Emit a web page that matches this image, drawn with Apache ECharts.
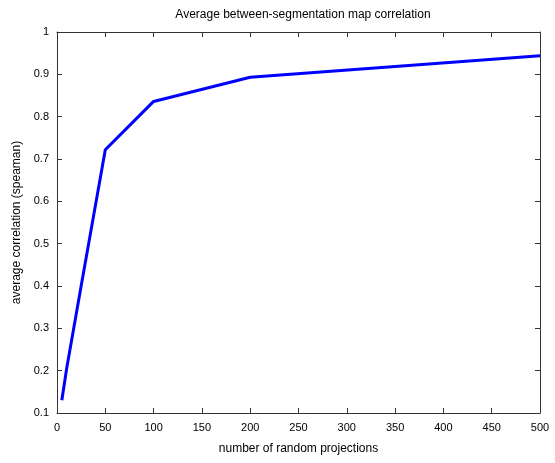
<!DOCTYPE html>
<html>
<head>
<meta charset="utf-8">
<script src="https://cdn.jsdelivr.net/npm/echarts@6/dist/echarts.min.js"></script>
<style>
html,body{margin:0;padding:0;background:#fff;}
#c{width:555px;height:463px;}
</style>
</head>
<body>
<div id="c"></div>
<script>
const projections = [5, 10, 25, 50, 100, 200, 500];
const correlation = [0.13, 0.205, 0.40, 0.722, 0.836, 0.893, 0.944];
const xTicks = [0, 50, 100, 150, 200, 250, 300, 350, 400, 450, 500];
const yTicks = [0.1, 0.2, 0.3, 0.4, 0.5, 0.6, 0.7, 0.8, 0.9, 1];

const fontFam = 'Liberation Sans, Arial, sans-serif';
const axisCol = '#333';
const chart = echarts.init(document.getElementById('c'), null, {renderer: 'canvas'});

function axisBase(show) {
  return {
    axisLine: {show: true, onZero: false, lineStyle: {color: axisCol, width: 1}},
    axisTick: {show: true, inside: true, length: 5, lineStyle: {color: axisCol}},
    splitLine: {show: false},
    axisLabel: {show: show, color: '#000', fontSize: 11, fontFamily: fontFam}
  };
}

chart.setOption({
  animation: false,
  backgroundColor: '#fff',
  title: {
    text: 'Average between-segmentation map correlation',
    left: 298, top: 4, textAlign: 'center',
    textStyle: {fontSize: 12, fontWeight: 'normal', color: '#000', fontFamily: fontFam}
  },
  grid: {left: 57, right: 15, top: 32, bottom: 50, containLabel: false},
  xAxis: [
    Object.assign(axisBase(true), {
      type: 'value', min: xTicks[0], max: xTicks[xTicks.length - 1], interval: 50,
      position: 'bottom',
      name: 'number of random projections', nameLocation: 'middle', nameGap: 30,
      nameTextStyle: {fontSize: 12, color: '#000', fontFamily: fontFam},
      axisLabel: {show: true, color: '#000', fontSize: 11, fontFamily: fontFam, margin: 9}
    }),
    Object.assign(axisBase(false), {
      type: 'value', min: xTicks[0], max: xTicks[xTicks.length - 1], interval: 50,
      position: 'top'
    })
  ],
  yAxis: [
    Object.assign(axisBase(true), {
      type: 'value', min: yTicks[0], max: yTicks[yTicks.length - 1], interval: 0.1,
      position: 'left',
      name: 'average correlation (speaman)', nameLocation: 'middle', nameGap: 32,
      nameTextStyle: {fontSize: 12, color: '#000', fontFamily: fontFam},
      axisLabel: {show: true, color: '#000', fontSize: 11, fontFamily: fontFam, margin: 8,
        formatter: v => (Math.round(v * 10) / 10).toString()}
    }),
    Object.assign(axisBase(false), {
      type: 'value', min: yTicks[0], max: yTicks[yTicks.length - 1], interval: 0.1,
      position: 'right'
    })
  ],
  series: [{
    type: 'line',
    data: projections.map((x, i) => [x, correlation[i]]),
    showSymbol: false,
    lineStyle: {color: '#0000ff', width: 3},
    itemStyle: {color: '#0000ff'},
    xAxisIndex: 0, yAxisIndex: 0
  }]
});
</script>
</body>
</html>
